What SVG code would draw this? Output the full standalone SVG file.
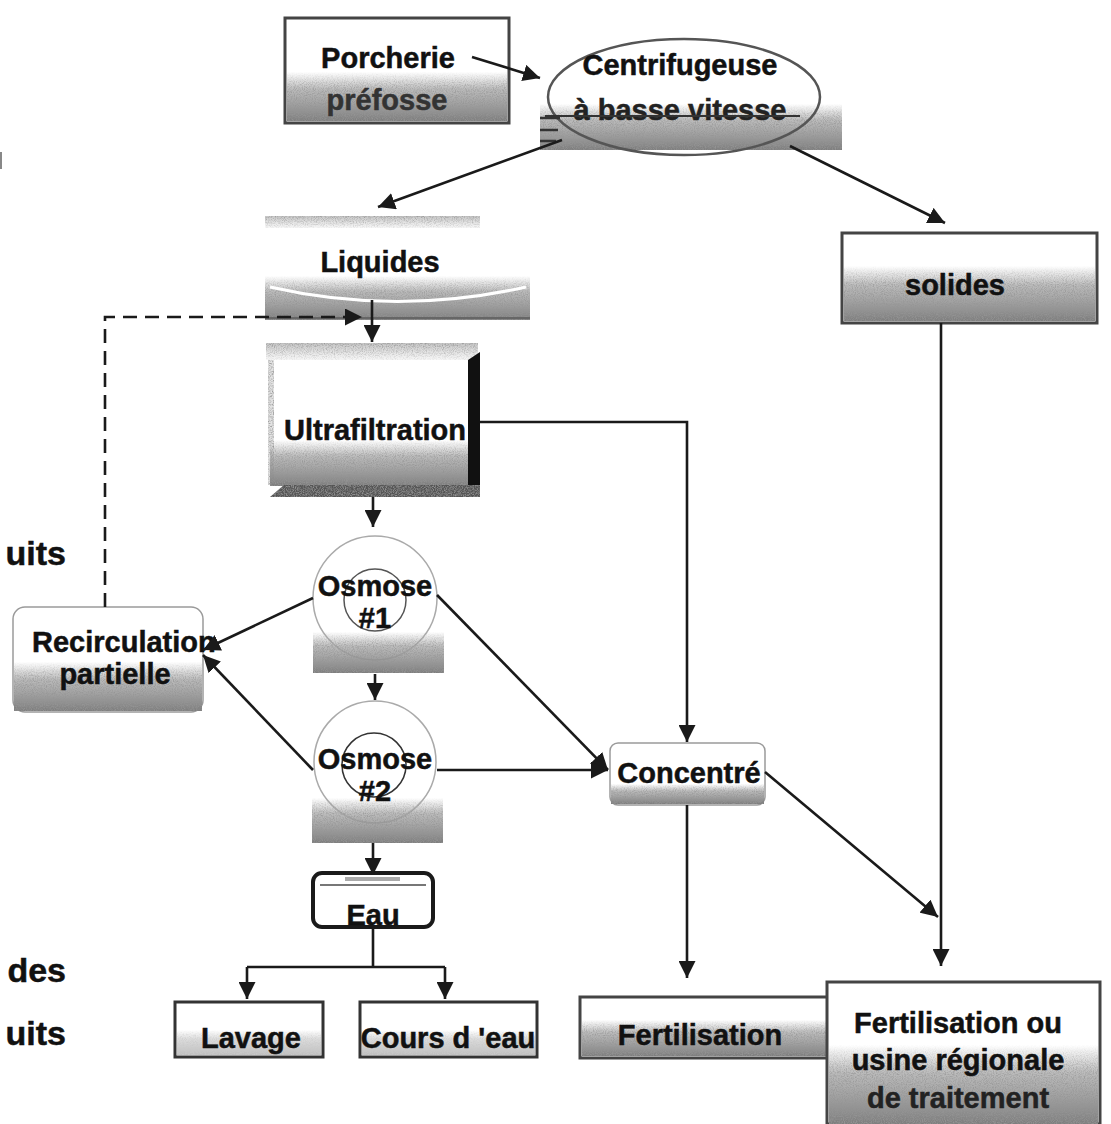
<svg xmlns="http://www.w3.org/2000/svg" width="1111" height="1124" viewBox="0 0 1111 1124">
<defs>
  <style>
    .t{font-family:"Liberation Sans",Arial,Helvetica,sans-serif;font-weight:bold;font-size:29px;fill:#111;stroke:#111;stroke-width:0.5;text-anchor:middle}
    .frag{font-family:"Liberation Sans",Arial,Helvetica,sans-serif;font-weight:bold;font-size:34px;fill:#111;stroke:#111;stroke-width:0.5;text-anchor:end}
    .box{fill:#fff;stroke:#444;stroke-width:3}
    .soft{fill:#fff;stroke:#9a9a9a;stroke-width:1.5}
    .band{fill:url(#bandG);filter:url(#grain)}
    .line{fill:none;stroke:#1a1a1a;stroke-width:2.6}
    .arr{marker-end:url(#ah)}
  </style>
  <linearGradient id="bandG" x1="0" y1="0" x2="0" y2="1">
    <stop offset="0" stop-color="#b0b0b0" stop-opacity="0"/>
    <stop offset="0.35" stop-color="#a5a5a5" stop-opacity="0.75"/>
    <stop offset="1" stop-color="#7d7d7d" stop-opacity="1"/>
  </linearGradient>
  <linearGradient id="lightG" x1="0" y1="0" x2="0" y2="1">
    <stop offset="0" stop-color="#bdbdbd" stop-opacity="0.9"/>
    <stop offset="1" stop-color="#d8d8d8" stop-opacity="0.2"/>
  </linearGradient>
  <filter id="grain" x="0" y="0" width="100%" height="100%">
    <feTurbulence type="fractalNoise" baseFrequency="0.9" numOctaves="2" seed="4" result="n"/>
    <feColorMatrix in="n" type="matrix" values="0 0 0 0 0.3  0 0 0 0 0.3  0 0 0 0 0.3  2.4 0 0 0 -0.95" result="d"/>
    <feComposite in="d" in2="SourceGraphic" operator="in" result="dm"/>
    <feMerge><feMergeNode in="SourceGraphic"/><feMergeNode in="dm"/></feMerge>
  </filter>
  <marker id="ah" viewBox="0 0 10 10" refX="10" refY="5" markerUnits="userSpaceOnUse" markerWidth="17" markerHeight="17" orient="auto">
    <path d="M0,0 L10,5 L0,10 z" fill="#1a1a1a"/>
  </marker>
</defs>
<rect width="1111" height="1124" fill="#fff"/>

<!-- left clipped text fragments -->
<g id="fragments">
  <rect x="0" y="152" width="2" height="17" fill="#888"/>
  <text class="frag" x="66" y="565">uits</text>
  <text class="frag" x="66" y="982">des</text>
  <text class="frag" x="66" y="1045">uits</text>
</g>

<g id="porcherie">
  <rect class="box" x="285" y="18" width="224" height="105"/>
  <rect class="band" x="287" y="72" width="220" height="49"/>
  <text class="t" x="388" y="68">Porcherie</text>
  <text class="t" x="387" y="110" style="fill:#333;stroke:#333">préfosse</text>
</g>

<g id="centrifugeuse">
  <ellipse cx="684" cy="97" rx="136" ry="58" fill="#fff"/>
  <rect class="band" x="540" y="104" width="302" height="46"/>
  <line x1="643" y1="153" x2="713" y2="153" stroke="#fff" stroke-width="3"/>
  <ellipse cx="684" cy="97" rx="136" ry="58" fill="none" stroke="#555" stroke-width="2.5"/>
  <g stroke="#333" stroke-width="2.5">
    <line x1="540" y1="118" x2="560" y2="118"/>
    <line x1="540" y1="130" x2="558" y2="130"/>
    <line x1="540" y1="141" x2="556" y2="141"/>
  </g>
  <text class="t" x="680" y="75">Centrifugeuse</text>
  <text class="t" x="680" y="120" style="fill:#222;stroke:#222">à basse vitesse</text>
  <line x1="545" y1="116" x2="800" y2="116" stroke="#333" stroke-width="2"/>
</g>

<g id="liquides">
  <rect x="265" y="217" width="265" height="103" fill="#fff"/>
  <rect x="265" y="216" width="215" height="12" fill="url(#lightG)" filter="url(#grain)"/>
  <rect class="band" x="265" y="276" width="265" height="44"/>
  <path d="M270,287 Q397,316 526,287" fill="none" stroke="#fff" stroke-width="3"/>
  <line x1="265" y1="318" x2="530" y2="318" stroke="#666" stroke-width="2"/>
  <text class="t" x="380" y="272">Liquides</text>
</g>

<g id="solides">
  <rect class="box" x="842" y="233" width="255" height="90"/>
  <rect class="band" x="844" y="266" width="251" height="55"/>
  <text class="t" x="955" y="295">solides</text>
</g>

<g id="ultrafiltration">
  <rect x="268" y="345" width="205" height="150" fill="#fff"/>
  <rect x="266" y="343" width="212" height="17" fill="url(#lightG)" filter="url(#grain)"/>
  <rect x="268" y="360" width="6" height="125" fill="#e3e3e3" filter="url(#grain)"/>
  <rect class="band" x="270" y="440" width="200" height="46"/>
  <polygon points="468,360 480,352 480,493 468,485" fill="#111"/>
  <polygon points="270,497 480,497 480,485 284,485" fill="#555" filter="url(#grain)"/>
  <text class="t" x="375" y="440">Ultrafiltration</text>
</g>

<g id="osmose1">
  <circle cx="375" cy="598" r="62" fill="#fff" stroke="#aaa" stroke-width="1.5"/>
  <circle cx="375" cy="600" r="31" fill="none" stroke="#555" stroke-width="1.5"/>
  <rect class="band" x="313" y="632" width="131" height="41"/>
  <text class="t" x="375" y="596">Osmose</text>
  <text class="t" x="375" y="628">#1</text>
</g>

<g id="osmose2">
  <circle cx="375" cy="762" r="61" fill="#fff" stroke="#aaa" stroke-width="1.5"/>
  <circle cx="374" cy="765" r="32" fill="none" stroke="#333" stroke-width="1.5"/>
  <rect class="band" x="312" y="798" width="131" height="45"/>
  <text class="t" x="375" y="769">Osmose</text>
  <text class="t" x="375" y="801">#2</text>
</g>

<g id="recirculation">
  <rect class="soft" x="13" y="607" width="190" height="105" rx="12"/>
  <rect class="band" x="14" y="662" width="188" height="49"/>
  <text class="t" x="32" y="652" style="text-anchor:start">Recirculation</text>
  <text class="t" x="115" y="684">partielle</text>
</g>

<g id="concentre">
  <rect class="soft" x="610" y="743" width="155" height="62" rx="8"/>
  <rect class="band" x="611" y="784" width="153" height="20"/>
  <text class="t" x="689" y="783">Concentré</text>
</g>

<g id="eau">
  <rect x="313" y="873" width="120" height="54" rx="9" fill="#fff" stroke="#1a1a1a" stroke-width="4"/>
  <line x1="320" y1="885" x2="426" y2="885" stroke="#777" stroke-width="2"/>
  <rect x="345" y="877" width="55" height="4" fill="#aaa"/>
  <text class="t" x="373" y="925">Eau</text>
</g>

<g id="lavage">
  <rect class="box" x="175" y="1002" width="148" height="55" style="stroke:#333"/>
  <rect class="band" x="177" y="1030" width="144" height="25" style="opacity:0.5"/>
  <text class="t" x="251" y="1048">Lavage</text>
</g>

<g id="cours-eau">
  <rect class="box" x="360" y="1002" width="177" height="55" style="stroke:#333"/>
  <rect class="band" x="362" y="1030" width="173" height="25" style="opacity:0.5"/>
  <text class="t" x="448" y="1048">Cours d 'eau</text>
</g>

<g id="fertilisation">
  <rect class="box" x="580" y="997" width="250" height="61"/>
  <rect class="band" x="582" y="1020" width="246" height="36"/>
  <text class="t" x="700" y="1045">Fertilisation</text>
</g>

<g id="usine">
  <rect class="box" x="827" y="982" width="273" height="142"/>
  <rect class="band" x="829" y="1045" width="269" height="79"/>
  <text class="t" x="958" y="1033">Fertilisation ou</text>
  <text class="t" x="958" y="1070">usine régionale</text>
  <text class="t" x="958" y="1108" style="fill:#222;stroke:#222">de traitement</text>
</g>

<g id="connectors">
  <line class="line arr" x1="472" y1="57" x2="540" y2="78"/>
  <line class="line arr" x1="562" y1="140" x2="378" y2="207"/>
  <line class="line arr" x1="790" y1="146" x2="945" y2="223"/>
  <line class="line arr" x1="372" y1="300" x2="372" y2="342"/>
  <path class="line arr" d="M105,607 V317 H362" stroke-dasharray="14 8"/>
  <path class="line arr" d="M480,422 H687 V742"/>
  <line class="line arr" x1="373" y1="497" x2="373" y2="527"/>
  <line class="line arr" x1="313" y1="598" x2="203" y2="650"/>
  <line class="line arr" x1="313" y1="770" x2="203" y2="655"/>
  <line class="line arr" x1="437" y1="595" x2="608" y2="770"/>
  <line class="line arr" x1="437" y1="770" x2="608" y2="770"/>
  <line class="line arr" x1="375" y1="674" x2="375" y2="700"/>
  <line class="line arr" x1="373" y1="843" x2="373" y2="875"/>
  <path class="line" d="M373,927 V967 M247,967 H445"/>
  <line class="line arr" x1="247" y1="967" x2="247" y2="999"/>
  <line class="line arr" x1="445" y1="967" x2="445" y2="999"/>
  <line class="line arr" x1="941" y1="323" x2="941" y2="966"/>
  <line class="line arr" x1="765" y1="772" x2="938" y2="917"/>
  <line class="line arr" x1="687" y1="805" x2="687" y2="978"/>
</g>
</svg>
